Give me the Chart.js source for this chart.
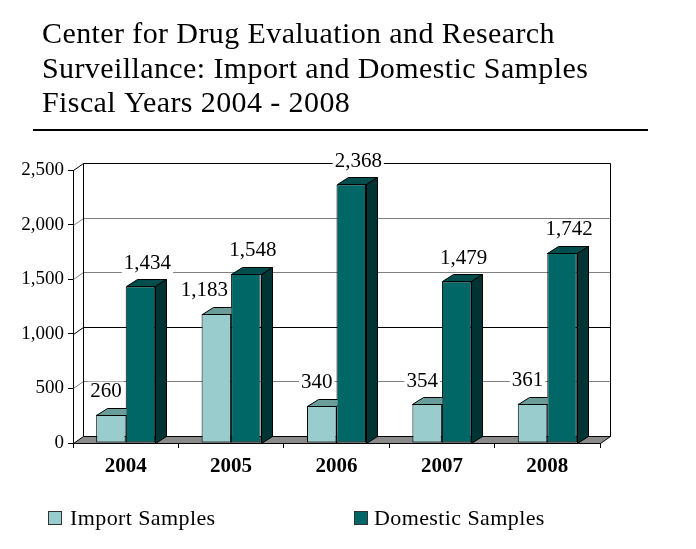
<!DOCTYPE html>
<html><head><meta charset="utf-8">
<script src="https://cdn.jsdelivr.net/npm/chart.js@4.4.0/dist/chart.umd.min.js"></script>
<style>html,body{margin:0;padding:0;background:#fff;}#wrap{width:696px;height:549px;position:relative}</style>
</head><body><div id="wrap"><canvas id="c" width="696" height="549"></canvas></div>
<script>
const titleLines = ['Center for Drug Evaluation and Research', 'Surveillance: Import and Domestic Samples', 'Fiscal Years 2004 - 2008'];
const years = ['2004', '2005', '2006', '2007', '2008'];
const importSamples = [260, 1183, 340, 354, 361];
const domesticSamples = [1434, 1548, 2368, 1479, 1742];
const seriesNames = ['Import Samples', 'Domestic Samples'];
const yMin = 0, yMax = 2500, yStep = 500;

const SERIF = "'Liberation Serif', 'DejaVu Serif', serif";
const FRONT = ['#99cccc', '#006666'];
const TOP = ['#6a9c9a', '#004d4d'];
const SIDE = ['#4d7f7f', '#003333'];
const WDX = 10, WDY = -7;   // wall depth
const BDX = 11, BDY = -7;   // bar depth

const fmt = v => v.toLocaleString('en-US');

const header = {
  id: 'header',
  beforeDraw(chart) {
    const ctx = chart.ctx;
    ctx.save();
    ctx.fillStyle = '#000';
    ctx.font = '30px ' + SERIF;
    ctx.letterSpacing = '0.4px';
    ctx.textBaseline = 'alphabetic';
    ctx.textAlign = 'left';
    const base = [43, 78, 112];
    titleLines.forEach((t, i) => ctx.fillText(t, 42, base[i]));
    ctx.letterSpacing = '0px';
    ctx.strokeStyle = '#000';
    ctx.lineWidth = 2;
    ctx.beginPath(); ctx.moveTo(33, 130); ctx.lineTo(648, 130); ctx.stroke();
    ctx.restore();
  }
};

const threeD = {
  id: 'threeD',
  beforeDatasetsDraw(chart) {
    const ctx = chart.ctx, ca = chart.chartArea, ys = chart.scales.y;
    const L = ca.left + 0.5, R = ca.right + 0.5, T = Math.round(ys.getPixelForValue(yMax)) + 0.5, B = Math.round(ys.getPixelForValue(yMin)) + 0.5;
    ctx.save();
    ctx.lineWidth = 1;
    for (let v = yMin + yStep; v < yMax; v += yStep) {
      const y = Math.round(ys.getPixelForValue(v)) + 0.5;
      ctx.strokeStyle = (v === 1000) ? '#000' : '#808080';
      ctx.beginPath();
      ctx.moveTo(L, y); ctx.lineTo(L + WDX, y + WDY); ctx.lineTo(R + WDX, y + WDY);
      ctx.stroke();
    }
    ctx.strokeStyle = '#000';
    ctx.beginPath();
    ctx.rect(L + WDX, T + WDY, R - L, B - T);
    ctx.moveTo(L, T); ctx.lineTo(L + WDX, T + WDY);
    ctx.stroke();
    ctx.fillStyle = '#8a8a8a';
    ctx.beginPath();
    ctx.moveTo(L, B); ctx.lineTo(R, B); ctx.lineTo(R + WDX, B + WDY); ctx.lineTo(L + WDX, B + WDY); ctx.closePath();
    ctx.fill(); ctx.stroke();
    ctx.restore();
  },
  afterDatasetsDraw(chart) {
    const ctx = chart.ctx;
    const m0 = chart.getDatasetMeta(0), m1 = chart.getDatasetMeta(1);
    const face = (pts, fill) => {
      ctx.beginPath();
      ctx.moveTo(pts[0][0], pts[0][1]);
      for (let k = 1; k < pts.length; k++) ctx.lineTo(pts[k][0], pts[k][1]);
      ctx.closePath();
      ctx.fillStyle = fill; ctx.fill();
      ctx.strokeStyle = '#000'; ctx.lineWidth = 1; ctx.stroke();
    };
    const drawBox = (e, ds) => {
      const l = Math.round(e.x - e.width / 2) + 0.5, r = Math.round(e.x + e.width / 2) + 0.5;
      const t = Math.round(e.y) + 0.5, b = Math.round(e.base) + 0.5;
      face([[l, t], [r, t], [r + BDX, t + BDY], [l + BDX, t + BDY]], TOP[ds]);
      face([[r, t], [r + BDX, t + BDY], [r + BDX, b + BDY], [r, b]], SIDE[ds]);
    };
    m0.data.forEach((e0, i) => {
      const e1 = m1.data[i];
      const l1 = Math.round(e1.x - e1.width / 2);
      ctx.save();
      ctx.beginPath(); ctx.rect(0, 0, l1 + 0.5, chart.height); ctx.clip();
      drawBox(e0, 0);
      ctx.restore();
      ctx.save();
      drawBox(e1, 1);
      ctx.restore();
    });
    ctx.save();
    ctx.font = '21px ' + SERIF;
    ctx.textAlign = 'center';
    ctx.textBaseline = 'middle';
    [m0, m1].forEach((m, ds) => {
      m.data.forEach((e, i) => {
        const v = chart.data.datasets[ds].data[i];
        const txt = fmt(v);
        const w = ctx.measureText(txt).width;
        let x;
        if (ds === 0) {
          const e1 = m1.data[i];
          const l1 = e1.x - e1.width / 2;
          x = Math.min(e.x - 5, l1 - 3 - w / 2);
        } else {
          x = e.x + 7;
        }
        const y = e.y - 23;
        ctx.fillStyle = '#fff';
        ctx.fillRect(x - w / 2 - 2, y - 10, w + 4, 20);
        ctx.fillStyle = '#000';
        ctx.fillText(txt, x, y);
      });
    });
    ctx.restore();
  },
  afterDraw(chart) {
    const ctx = chart.ctx;
    ctx.save();
    const items = [{ x: 48, tx: 70 }, { x: 354, tx: 374 }];
    chart.data.datasets.forEach((d, i) => {
      ctx.fillStyle = d.backgroundColor;
      ctx.fillRect(items[i].x, 511, 14, 14);
      ctx.strokeStyle = '#333';
      ctx.lineWidth = 1;
      ctx.strokeRect(items[i].x + 0.5, 511.5, 13, 13);
      ctx.fillStyle = '#000';
      ctx.font = '22px ' + SERIF;
      ctx.letterSpacing = '0.4px';
      ctx.textBaseline = 'alphabetic';
      ctx.textAlign = 'left';
      ctx.fillText(d.label, items[i].tx, 525);
      ctx.letterSpacing = '0px';
    });
    ctx.restore();
  }
};

new Chart(document.getElementById('c'), {
  type: 'bar',
  data: {
    labels: years,
    datasets: [
      { label: seriesNames[0], data: importSamples, backgroundColor: FRONT[0], borderColor: '#000', borderWidth: 1, borderSkipped: false, categoryPercentage: 0.56, barPercentage: 1.0 },
      { label: seriesNames[1], data: domesticSamples, backgroundColor: FRONT[1], borderColor: '#000', borderWidth: 1, borderSkipped: false, categoryPercentage: 0.56, barPercentage: 1.0 }
    ]
  },
  options: {
    responsive: false,
    animation: false,
    devicePixelRatio: 1,
    layout: { padding: { top: 170, left: 0, right: 96, bottom: 76 } },
    plugins: { legend: { display: false }, title: { display: false }, tooltip: { enabled: false } },
    scales: {
      x: {
        grid: { display: true, drawOnChartArea: false, drawTicks: true, tickLength: 5, color: '#000', offset: true },
        border: { display: true, color: '#000' },
        ticks: { color: '#000', font: { family: SERIF, size: 21, weight: 'bold' }, padding: 6 },
        afterFit: s => { s.height = 30; }
      },
      y: {
        min: yMin, max: yMax,
        grid: { display: true, drawOnChartArea: false, drawTicks: true, tickLength: 5, color: '#000' },
        border: { display: true, color: '#000' },
        ticks: { stepSize: yStep, color: '#000', font: { family: SERIF, size: 19 }, padding: 4, callback: v => fmt(v) },
        afterFit: s => { s.width = 73; }
      }
    }
  },
  plugins: [header, threeD]
});
</script></body></html>
